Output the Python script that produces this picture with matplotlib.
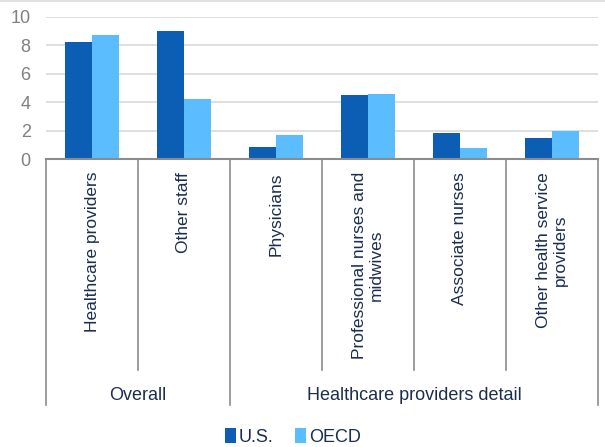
import numpy as np
import matplotlib
matplotlib.use('Agg')
import matplotlib.pyplot as plt
from matplotlib.lines import Line2D

# =======================
# Data
# =======================
categories = ['Healthcare providers', 'Other staff', 'Physicians',
              'Professional nurses and\nmidwives', 'Associate nurses',
              'Other health service\nproviders']
groups = ['Overall', 'Healthcare providers detail']
group_sizes = [2, 4]
us_values = [8.25, 9.0, 0.85, 4.5, 1.8, 1.45]
oecd_values = [8.7, 4.2, 1.7, 4.6, 0.78, 2.0]
series_names = ['U.S.', 'OECD']

# =======================
# Style
# =======================
plt.rcParams['font.family'] = ['Liberation Sans', 'DejaVu Sans']
us_color = '#0B5EB4'
oecd_color = '#5BBDFE'
text_color = '#1B2D4F'
axis_gray = '#8C8C8C'
grid_gray = '#D9D9D9'

W, H = 605, 447
fig = plt.figure(figsize=(W / 100, H / 100), dpi=100)

# plot area in pixels
left_px, right_px, top_px, base_px = 46, 598, 16.7, 159
ax = fig.add_axes([left_px / W, 1 - base_px / H,
                   (right_px - left_px) / W, (base_px - top_px) / H])


def px_to_axes_y(py):
    # figure pixel row -> axes fraction
    return (base_px - py) / (base_px - top_px)


x = np.arange(len(categories)) + 0.5
bw = 0.29
ax.bar(x - bw / 2, us_values, bw, color=us_color, label=series_names[0], zorder=3)
ax.bar(x + bw / 2, oecd_values, bw, color=oecd_color, label=series_names[1], zorder=3)

ax.set_xlim(0, len(categories))
ax.set_ylim(0, 10)
ax.set_yticks(range(0, 11, 2))
ax.yaxis.grid(True, color=grid_gray, lw=1.2, zorder=0)
ax.set_axisbelow(True)
ax.tick_params(axis='y', length=0, pad=11, labelsize=13, labelcolor='#808080')
ax.set_xticks([])
for s in ['left', 'right', 'top']:
    ax.spines[s].set_visible(False)
ax.spines['bottom'].set_color(axis_gray)
ax.spines['bottom'].set_linewidth(1.5)
ax.spines['bottom'].set_zorder(4)

trans = ax.get_xaxis_transform()

# category labels, rotated
for xi, lab in zip(x, categories):
    ax.text(xi, px_to_axes_y(172), lab, transform=trans, rotation=90,
            ha='center', va='top', multialignment='center',
            fontsize=12.5, color=text_color, linespacing=1.15)

# separators between categories and groups
inner_end = px_to_axes_y(370)
outer_end = px_to_axes_y(405)
bounds = np.cumsum([0] + group_sizes)
for i in range(len(categories) + 1):
    y_end = outer_end if i in bounds else inner_end
    ax.add_line(Line2D([i, i], [0, y_end], transform=trans, color=axis_gray,
                       lw=1.2, clip_on=False))

# group labels
for g, (a, b) in zip(groups, zip(bounds[:-1], bounds[1:])):
    ax.text((a + b) / 2, px_to_axes_y(395), g, transform=trans,
            ha='center', va='center', fontsize=13, color=text_color)

# light border line along the top
fig.add_artist(Line2D([0, 1], [0.998, 0.998], transform=fig.transFigure,
                      color='#E0E0E0', lw=1.5))

leg = fig.legend(loc='center', bbox_to_anchor=(293 / W, 1 - 437 / H), ncol=2,
                 frameon=False, fontsize=13, handlelength=0.6, handleheight=0.9,
                 handletextpad=0.15, columnspacing=1.2, borderaxespad=0)
for t in leg.get_texts():
    t.set_color(text_color)

fig.savefig('out.png', dpi=100)
